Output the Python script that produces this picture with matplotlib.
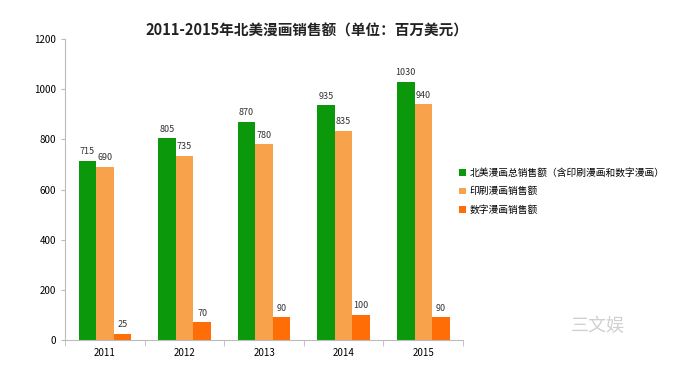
import matplotlib.pyplot as plt
import numpy as np

plt.rcParams['font.family'] = ['Noto Sans CJK SC', 'DejaVu Sans']

years = ['2011', '2012', '2013', '2014', '2015']
total = [715, 805, 870, 935, 1030]
printed = [690, 735, 780, 835, 940]
digital = [25, 70, 90, 100, 90]
names = ['北美漫画总销售额（含印刷漫画和数字漫画）', '印刷漫画销售额', '数字漫画销售额']
colors = ['#0b990b', '#f9a24c', '#ff6d06']

fig = plt.figure(figsize=(6.87, 3.68), dpi=100)
ax = fig.add_axes([0.095, 0.076, 0.579, 0.818])

x = np.arange(len(years))
w = 0.22
for i, (vals, c, n) in enumerate(zip([total, printed, digital], colors, names)):
    bars = ax.bar(x + (i - 1) * w, vals, w, color=c, label=n)
    for b, v in zip(bars, vals):
        ax.text(b.get_x() + b.get_width() / 2, v + 18, str(v), ha='center', va='bottom',
                fontsize=6.5, color='#333333')

ax.set_xlim(-0.5, 4.5)
ax.set_ylim(0, 1200)
ax.set_yticks(range(0, 1201, 200))
ax.set_xticks(x)
ax.set_xticklabels(years)
ax.set_xticks(np.arange(-0.5, 5, 1), minor=True)
ax.tick_params(axis='x', which='major', length=0, labelsize=7, pad=6)
ax.tick_params(axis='x', which='minor', length=4, color='#bbbbbb')
ax.tick_params(axis='y', labelsize=7, length=3, color='#bbbbbb')
for s in ['top', 'right']:
    ax.spines[s].set_visible(False)
for s in ['left', 'bottom']:
    ax.spines[s].set_color('#bbbbbb')

fig.text(0.447, 0.918, '2011-2015年北美漫画销售额（单位：百万美元）', ha='center', va='center',
         fontsize=10.5, fontweight='bold', color='#222222')

fig.legend(loc='center left', bbox_to_anchor=(0.655, 0.48), frameon=False, fontsize=7,
           handlelength=0.7, handleheight=0.7, handletextpad=0.4, labelspacing=0.9)

fig.text(0.87, 0.115, '三文娱', ha='center', va='center', fontsize=13, color='#d0d0d0')

fig.savefig('out.png')
